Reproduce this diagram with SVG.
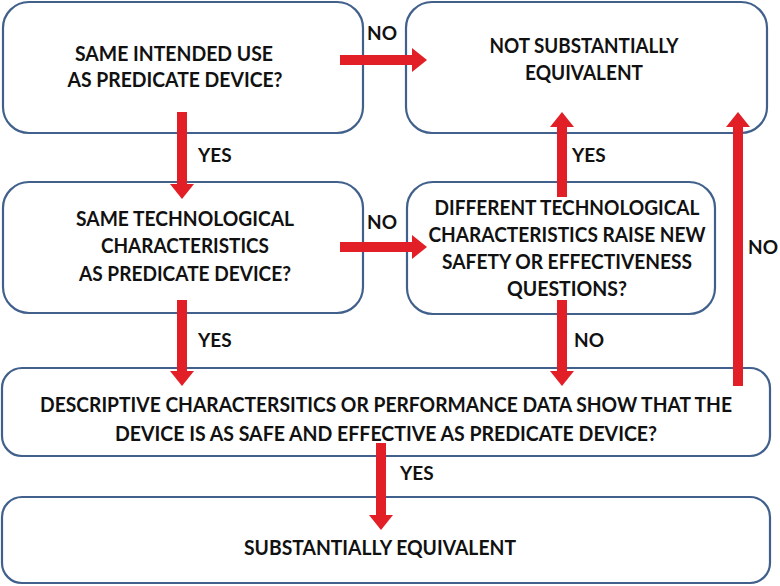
<svg xmlns="http://www.w3.org/2000/svg" width="780" height="586" viewBox="0 0 780 586">
<defs>
<style>
.box{fill:#fff;stroke:#41618c;stroke-width:2.2}
.t{font-family:Lato,"Open Sans","Liberation Sans",sans-serif;font-weight:bold;font-size:20px;fill:#111;text-anchor:middle}
.lbl{font-family:Lato,"Open Sans","Liberation Sans",sans-serif;font-weight:bold;font-size:19px;fill:#111}
.arr{stroke:#e21f26;stroke-width:10;fill:none;marker-end:url(#ah)}
</style>
<marker id="ah" markerUnits="userSpaceOnUse" markerWidth="16" markerHeight="24" refX="0" refY="12" orient="auto">
<path d="M0,0 L15,12 L0,24 z" fill="#e21f26"/>
</marker>
</defs>
<g id="n1">
<rect class="box" x="3" y="2" width="360" height="131" rx="26"/>
<text class="t" x="174" y="61" textLength="198" lengthAdjust="spacingAndGlyphs">SAME INTENDED USE</text>
<text class="t" x="175" y="87" textLength="215" lengthAdjust="spacingAndGlyphs">AS PREDICATE DEVICE?</text>
</g>
<g id="n2">
<rect class="box" x="406" y="2" width="361" height="131" rx="26"/>
<text class="t" x="584" y="53" textLength="189" lengthAdjust="spacingAndGlyphs">NOT SUBSTANTIALLY</text>
<text class="t" x="584" y="80" textLength="118" lengthAdjust="spacingAndGlyphs">EQUIVALENT</text>
</g>
<g id="n3">
<rect class="box" x="3" y="182" width="360" height="131" rx="26"/>
<text class="t" x="185" y="226" textLength="218" lengthAdjust="spacingAndGlyphs">SAME TECHNOLOGICAL</text>
<text class="t" x="185" y="253" textLength="168" lengthAdjust="spacingAndGlyphs">CHARACTERISTICS</text>
<text class="t" x="185" y="281" textLength="212" lengthAdjust="spacingAndGlyphs">AS PREDICATE DEVICE?</text>
</g>
<g id="n4">
<rect class="box" x="407" y="182" width="308" height="132" rx="26"/>
<text class="t" x="567" y="215" textLength="265" lengthAdjust="spacingAndGlyphs">DIFFERENT TECHNOLOGICAL</text>
<text class="t" x="567" y="242" textLength="277" lengthAdjust="spacingAndGlyphs">CHARACTERISTICS RAISE NEW</text>
<text class="t" x="567" y="269" textLength="250" lengthAdjust="spacingAndGlyphs">SAFETY OR EFFECTIVENESS</text>
<text class="t" x="567" y="296" textLength="120" lengthAdjust="spacingAndGlyphs">QUESTIONS?</text>
</g>
<g id="n5">
<rect class="box" x="2" y="368" width="768" height="88" rx="20"/>
<text class="t" x="386" y="412" textLength="692" lengthAdjust="spacingAndGlyphs">DESCRIPTIVE CHARACTERSITICS OR PERFORMANCE DATA SHOW THAT THE</text>
<text class="t" x="386" y="441" textLength="542" lengthAdjust="spacingAndGlyphs">DEVICE IS AS SAFE AND EFFECTIVE AS PREDICATE DEVICE?</text>
</g>
<g id="n6">
<rect class="box" x="2" y="497" width="768" height="86" rx="20"/>
<text class="t" x="380" y="555" textLength="272" lengthAdjust="spacingAndGlyphs">SUBSTANTIALLY EQUIVALENT</text>
</g>
<g id="connectors">
<line class="arr" x1="340" y1="60" x2="412" y2="60"/>
<line class="arr" x1="182" y1="112" x2="182" y2="184"/>
<line class="arr" x1="340" y1="247" x2="412" y2="247"/>
<line class="arr" x1="182" y1="300" x2="182" y2="371"/>
<line class="arr" x1="562" y1="197" x2="562" y2="127"/>
<line class="arr" x1="562" y1="300" x2="562" y2="371"/>
<line class="arr" x1="738" y1="386" x2="738" y2="127"/>
<line class="arr" x1="381" y1="443" x2="381" y2="515"/>
<text class="lbl" x="367" y="40">NO</text>
<text class="lbl" x="198" y="162">YES</text>
<text class="lbl" x="367" y="229">NO</text>
<text class="lbl" x="198" y="347">YES</text>
<text class="lbl" x="572" y="162">YES</text>
<text class="lbl" x="574" y="347">NO</text>
<text class="lbl" x="748" y="254">NO</text>
<text class="lbl" x="400" y="480">YES</text>
</g>
</svg>
